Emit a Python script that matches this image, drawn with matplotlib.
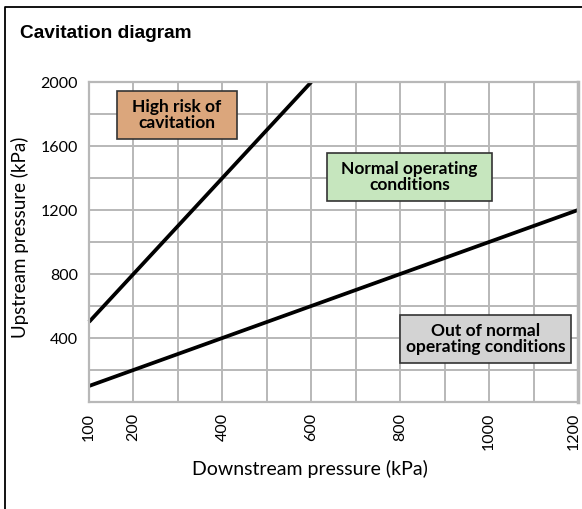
import matplotlib
matplotlib.use("Agg")
import matplotlib.pyplot as plt
import matplotlib.transforms as mtransforms
from matplotlib.lines import Line2D
from matplotlib.patches import Rectangle

# limit lines (kPa)
risk_x = [100, 600]
risk_y = [500, 2000]
normal_x = [100, 1200]
normal_y = [100, 1200]

x_ticks = [100, 200, 400, 600, 800, 1000, 1200]
y_ticks = [400, 800, 1200, 1600, 2000]

regions = ["High risk of\ncavitation", "Normal operating\nconditions", "Out of normal\noperating conditions"]
region_colors = ["#dba67c", "#c6e6be", "#d3d3d3"]
# label boxes: x0, y0, width, height in data units
region_boxes = [(163, 1644, 270, 300), (635, 1256, 372, 300), (800, 244, 384, 300)]

label_font = ["Lato", "DejaVu Sans"]

fig = plt.figure(figsize=(5.82, 5.09), dpi=100)
ax = fig.add_axes([89 / 582, 1 - 402 / 509, (578 - 89) / 582, (402 - 82) / 509])

# outer frame: only top and left edges visible
fig.lines.append(Line2D([5 / 582, 5 / 582, 1], [0, 1 - 7 / 509, 1 - 7 / 509],
                        transform=fig.transFigure, color="black", lw=1.3))

ax.set_xlim(100, 1200)
ax.set_ylim(0, 2000)
ax.set_xticks(range(100, 1201, 100))
ax.set_yticks(range(0, 2001, 200))
ax.grid(True, color="#b8b8b8", lw=1.4)
for s in ax.spines.values():
    s.set_color("#b8b8b8")
    s.set_linewidth(1.6)
ax.spines["right"].set_linewidth(2.5)
ax.tick_params(length=0, pad=8)

ax.set_xticklabels([str(v) if v in x_ticks else "" for v in range(100, 1201, 100)],
                   rotation=90, fontsize=11.5, family=label_font)
ax.set_yticklabels([str(v) if v in y_ticks else "" for v in range(0, 2001, 200)],
                   fontsize=11.5, family=label_font)
# nudge the last label so it stays inside the figure
last = ax.get_xticklabels()[-1]
last.set_transform(last.get_transform() + mtransforms.ScaledTranslation(-4 / 100, 0, fig.dpi_scale_trans))

ax.plot(risk_x, risk_y, color="black", lw=2.7, solid_capstyle="butt", clip_on=False)
ax.plot(normal_x, normal_y, color="black", lw=2.7, solid_capstyle="butt", clip_on=False)

for txt, (bx, by, bw, bh), c in zip(regions, region_boxes, region_colors):
    ax.add_patch(Rectangle((bx, by), bw, bh, facecolor=c, edgecolor="#333333", lw=1.2, zorder=3))
    ax.text(bx + bw / 2, by + bh / 2, txt, ha="center", va="center", fontsize=12.5,
            fontweight="bold", family=label_font, linespacing=1.05, zorder=4)

ax.set_xlabel("Downstream pressure (kPa)", fontsize=14, family=label_font)
ax.xaxis.set_label_coords((310 - 89) / 489, (402 - 460) / 320)
ax.set_ylabel("Upstream pressure (kPa)", fontsize=13.5, family=label_font)
ax.yaxis.set_label_coords((29 - 89) / 489, (402 - 237) / 320)

fig.text(20 / 582, 1 - 33 / 509, "Cavitation diagram", fontsize=13.8, fontweight="bold",
         family="Liberation Sans", va="center")

fig.savefig("out.png", dpi=100)
